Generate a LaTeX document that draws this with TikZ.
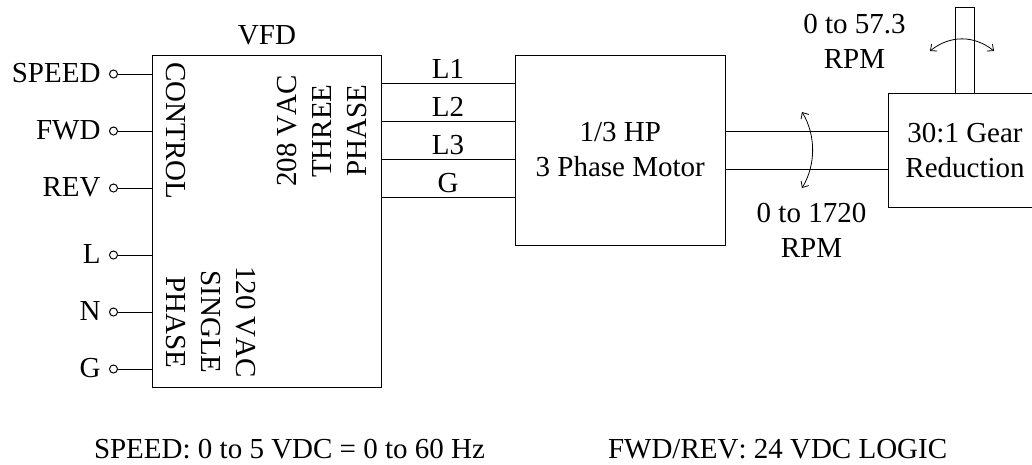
\documentclass[tikz,border=0pt]{standalone}
\usepackage{fontspec}
\setmainfont[Kerning=Off]{Liberation Serif}
\usetikzlibrary{arrows.meta}
\begin{document}
\begin{tikzpicture}[x=1pt,y=-1pt,line width=1pt,
  every node/.style={font=\fontsize{29}{35}\selectfont,inner sep=0pt,outer sep=0pt},
  blockbox/.style={draw,rectangle,align=center},
  terminal/.style={draw,circle,minimum size=8pt},
  termlabel/.style={anchor=base east},
  wirelabel/.style={anchor=base},
  vtext/.style={align=center,anchor=center},
  turn/.style={{Straight Barb[length=5pt,width=9pt]}-{Straight Barb[length=5pt,width=9pt]},line width=0.8pt}]
\useasboundingbox (0,0) rectangle (1032,464);
\clip (0,0) rectangle (1032,464);
% blocks
\node[blockbox,minimum width=229pt,minimum height=332pt] (vfd) at (266.5,221) {};
\node[blockbox,minimum width=210.5pt,minimum height=190pt] (motor) at (620.25,150) {1/3 HP\\3 Phase Motor};
\node[blockbox,minimum width=154pt,minimum height=114pt] (gear) at (965,150) {30:1 Gear\\Reduction};
\node[blockbox,minimum width=19.5pt,minimum height=86pt] (shaft) at (964.75,50) {};
\node (vfdlabel) at (267,35) {VFD};
% terminals
\foreach \n/\y/\t in {a/74/SPEED,b/131/FWD,c/188/REV,d/255/L,e/312/N,f/369/G}{
  \node[terminal] (t\n) at (113.5,\y) {};
  \node[termlabel] (l\n) at (100.5,\y+8.5) {\t};
  \draw (t\n) -- (t\n -| vfd.west);
}
% motor wires
\foreach \n/\y/\t in {1/83.5/L1,2/121.5/L2,3/159.5/L3,4/197.5/G}{
  \coordinate (w\n) at (381,\y);
  \draw (w\n) -- (w\n -| motor.west);
  \node[wirelabel] (wl\n) at (448,\y-5.5) {\t};
}
% motor shaft
\coordinate (s1) at (725.5,131);
\coordinate (s2) at (725.5,169);
\draw (s1) -- (s1 -| gear.west);
\draw (s2) -- (s2 -| gear.west);
% rotated texts
\node[rotate=-90] (control) at (176,131) {CONTROL};
\node[rotate=90,vtext] (p208) at (322,131) {208 VAC\\THREE\\PHASE};
\node[rotate=-90,vtext] (p120) at (211,322) {120 VAC\\SINGLE\\PHASE};
% rotation arrows
\coordinate (ra) at (802,112);
\coordinate (rb) at (802,188);
\draw[turn] (ra) .. controls (816,135) and (816,165) .. (rb);
\coordinate (rc) at (930,51);
\coordinate (rd) at (994,51);
\draw[turn] (rc) .. controls (950,35) and (974,35) .. (rd);
% speed labels
\node[align=center] (rpmhigh) at (854.5,41) {0 to 57.3\\RPM};
\node[align=center] (rpmlow) at (811.5,230) {0 to 1720\\RPM};
% notes
\node[anchor=base west] (note1) at (94,458) {SPEED: 0 to 5 VDC = 0 to 60 Hz};
\node[anchor=base west] (note2) at (608,458) {FWD/REV: 24 VDC LOGIC};
\end{tikzpicture}
\end{document}
